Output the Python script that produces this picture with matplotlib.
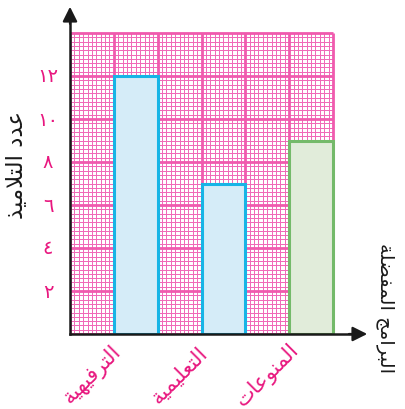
import numpy as np
import matplotlib
matplotlib.use("Agg")
import matplotlib.pyplot as plt

# ---------------- data ----------------
categories = ["الترفيهية", "التعليمية", "المنوعات"]
values = [12, 7, 9]
bar_positions = [1, 3, 5]          # column index (left edge) of each bar
y_ticks = [2, 4, 6, 8, 10, 12]
y_tick_labels = ["٢", "٤", "٦", "٨", "١٠", "١٢"]
y_label = "عدد التلاميذ"
x_label = "البرامج المفضلة"

# ---------------- simple Arabic shaping (for DejaVu Sans presentation forms) ----------------
FORMS = {  # isolated, final, initial, medial
    'ا': ('\uFE8D', '\uFE8E', None, None),
    'ب': ('\uFE8F', '\uFE90', '\uFE91', '\uFE92'),
    'ة': ('\uFE93', '\uFE94', None, None),
    'ت': ('\uFE95', '\uFE96', '\uFE97', '\uFE98'),
    'ج': ('\uFE9D', '\uFE9E', '\uFE9F', '\uFEA0'),
    'د': ('\uFEA9', '\uFEAA', None, None),
    'ذ': ('\uFEAB', '\uFEAC', None, None),
    'ر': ('\uFEAD', '\uFEAE', None, None),
    'ض': ('\uFEBD', '\uFEBE', '\uFEBF', '\uFEC0'),
    'ع': ('\uFEC9', '\uFECA', '\uFECB', '\uFECC'),
    'ف': ('\uFED1', '\uFED2', '\uFED3', '\uFED4'),
    'ل': ('\uFEDD', '\uFEDE', '\uFEDF', '\uFEE0'),
    'م': ('\uFEE1', '\uFEE2', '\uFEE3', '\uFEE4'),
    'ن': ('\uFEE5', '\uFEE6', '\uFEE7', '\uFEE8'),
    'ه': ('\uFEE9', '\uFEEA', '\uFEEB', '\uFEEC'),
    'و': ('\uFEED', '\uFEEE', None, None),
    'ي': ('\uFEF1', '\uFEF2', '\uFEF3', '\uFEF4'),
}
LAMALEF = ('\uFEFB', '\uFEFC')


def dual(c):
    return c in FORMS and FORMS[c][2] is not None


def shape(text):
    chars = list(text)
    out = []
    i = 0
    n = len(chars)
    while i < n:
        c = chars[i]
        if c not in FORMS:
            out.append(c)
            i += 1
            continue
        prev_join = i > 0 and dual(chars[i - 1])
        if c == 'ل' and i + 1 < n and chars[i + 1] == 'ا':
            out.append(LAMALEF[1] if prev_join else LAMALEF[0])
            i += 2
            continue
        next_join = dual(c) and i + 1 < n and chars[i + 1] in FORMS
        iso, fin, ini, med = FORMS[c]
        if prev_join and next_join:
            out.append(med)
        elif prev_join:
            out.append(fin)
        elif next_join:
            out.append(ini)
        else:
            out.append(iso)
        i += 1
    return ''.join(out)[::-1]


# ---------------- figure ----------------
W, H = 405, 410
fig = plt.figure(figsize=(W / 100, H / 100), dpi=100)
px_x = 263 / 6.0
px_y = 301 / 14.0
ax = fig.add_axes([70 / W, 75 / H, 300 / W, 330 / H])
ax.set_xlim(0, 300 / px_x)
ax.set_ylim(0, 330 / px_y)
ax.axis("off")

pink = "#F05AAE"
pink_minor = "#F06AB8"
magenta = "#E8177F"

# grid (graph paper)
gx = np.round(np.arange(0, 6.0001, 0.1), 4)
gy = np.round(np.arange(0, 14.0001, 0.2), 4)
for x in gx:
    major = abs(x - round(x)) < 1e-6
    ax.plot([x, x], [0, 14], color=pink if major else pink_minor,
            lw=2.0 if major else 0.45, zorder=2 if major else 1, solid_capstyle="butt",
            antialiased=major)
for y in gy:
    major = abs(y / 2 - round(y / 2)) < 1e-6
    ax.plot([0, 6], [y, y], color=pink if major else pink_minor,
            lw=2.0 if major else 0.45, zorder=2 if major else 1, solid_capstyle="butt",
            antialiased=major)

# bars
faces = ["#D5ECF8", "#D5ECF8", "#E1ECDA"]
edges = ["#17B4E6", "#17B4E6", "#74BA6A"]
for pos, val, fc, ec in zip(bar_positions, values, faces, edges):
    ax.bar(pos + 0.5, val, width=1.0, color=fc, edgecolor=ec, linewidth=2.2, zorder=3)

# axes with arrows
ax.plot([0, 0], [0, 14.6], color="#1a1a1a", lw=1.8, zorder=5, clip_on=False)
ax.plot([0, 6.4], [0, 0], color="#1a1a1a", lw=1.8, zorder=5, clip_on=False)
ax.annotate("", xy=(0, 330 / px_y), xytext=(0, 14.3),
            arrowprops=dict(arrowstyle="-|>", color="#1a1a1a", lw=1.6, mutation_scale=22),
            annotation_clip=False, zorder=6)
ax.annotate("", xy=(300 / px_x, 0), xytext=(6.3, 0),
            arrowprops=dict(arrowstyle="-|>", color="#1a1a1a", lw=1.6, mutation_scale=22),
            annotation_clip=False, zorder=6)

# y tick labels
for v, lab in zip(y_ticks, y_tick_labels):
    ax.text(-22 / px_x, v, lab, color=magenta, fontsize=14, ha="center", va="center",
            family="DejaVu Sans")

# category labels (rotated)
for pos, lab in zip(bar_positions, categories):
    ax.text(pos + 0.5 - 1.0, -40 / px_y, shape(lab), color=magenta, fontsize=15,
            rotation=45, ha="center", va="center", rotation_mode="anchor",
            family="DejaVu Sans", clip_on=False)

# axis titles
fig.text(16 / W, 1 - 165 / H, shape(y_label), rotation=90, ha="center", va="center",
         fontsize=16.5, color="#1a1a1a", family="DejaVu Sans")
fig.text(386 / W, 1 - 308 / H, shape(x_label), rotation=270, ha="center", va="center",
         fontsize=14, color="#1a1a1a", family="DejaVu Sans")

fig.savefig("out.png", dpi=100)
